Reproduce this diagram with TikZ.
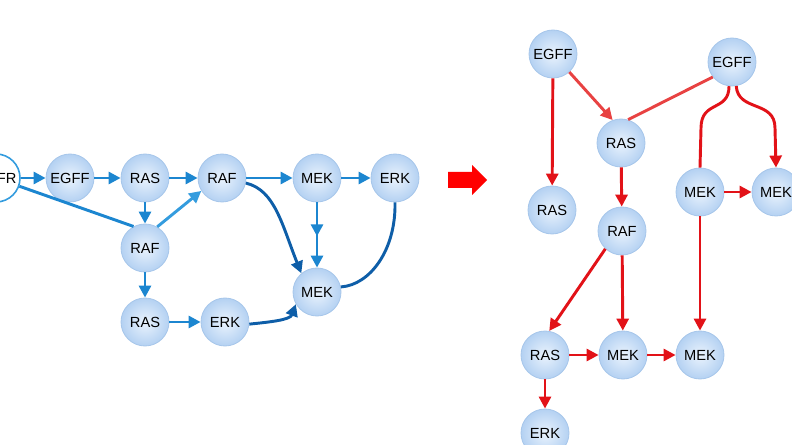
\documentclass[tikz,border=0pt]{standalone}
\usepackage{fontspec}
\setmainfont{Liberation Sans}
\usetikzlibrary{arrows.meta,decorations.markings}
\definecolor{bluA}{RGB}{28,134,208}
\definecolor{bluB}{RGB}{14,94,168}
\definecolor{bluC}{RGB}{52,156,222}
\definecolor{redA}{RGB}{226,18,24}
\definecolor{redB}{RGB}{232,66,66}
\definecolor{nodeEdge}{RGB}{166,198,234}
\definecolor{nodeIn}{RGB}{234,243,253}
\definecolor{nodeOut}{RGB}{180,209,242}
\tikzset{
  mol/.style={circle, minimum size=36pt, inner sep=0pt, draw=nodeEdge, line width=0.6pt,
    inner color=nodeIn, outer color=nodeOut, font=\fontsize{11pt}{13pt}\selectfont},
  startmol/.style={circle, minimum size=36pt, inner sep=0pt, draw=bluC, line width=1.2pt,
    fill=white, font=\fontsize{11pt}{13pt}\selectfont},
  tip/.style={-{Triangle[length=9pt,width=9pt]}},
  barrow/.style={draw=bluA, line width=2.2pt, tip},
  bline/.style={draw=bluA, line width=2.2pt},
  dbarrow/.style={draw=bluB, line width=2.2pt, tip},
  dbline/.style={draw=bluB, line width=2.2pt},
  rarrow/.style={draw=redA, line width=2.2pt, tip},
  rline/.style={draw=redA, line width=2.2pt},
  rlarrow/.style={draw=redB, line width=2.2pt, tip},
  rlline/.style={draw=redB, line width=2.2pt},
  midarrow/.style={postaction={decorate}, decoration={markings,
    mark=at position 0.52 with {\arrow[bluA]{Triangle[length=9pt,width=9pt]}}}}
}
\begin{document}
\begin{tikzpicture}[x=0.75pt,y=-0.75pt]
\useasboundingbox (0,0) rectangle (792,445);
\begin{scope}
\clip (0,0) rectangle (792,445);
% left graph nodes
\node[startmol] (egfr) at (-4,178) {EGFR};
\end{scope}
\node[mol] (egffL) at (70,178) {EGFF};
\node[mol] (rasL) at (145,178) {RAS};
\node[mol] (rafT) at (222,178) {RAF};
\node[mol] (mekT) at (317,178) {MEK};
\node[mol] (erkT) at (395,178) {ERK};
\node[mol] (rafM) at (145,248) {RAF};
\node[mol] (rasB) at (145,322) {RAS};
\node[mol] (erkB) at (225,322) {ERK};
\node[mol] (mekM) at (317,292) {MEK};
% left edges
\draw[barrow] (egfr) -- (egffL);
\draw[barrow] (egffL) -- (rasL);
\draw[barrow] (rasL) -- (rafT);
\draw[barrow] (rafT) -- (mekT);
\draw[barrow] (mekT) -- (erkT);
\draw[barrow] (rasL) -- (rafM);
\draw[barrow, draw=bluC] (rafM.60) -- (rafT.212);
\draw[bline] (egfr) -- (rafM.118);
\draw[barrow] (rafM) -- (rasB);
\draw[barrow] (rasB) -- (erkB);
\draw[barrow, midarrow] (mekT) -- (mekM);
\draw[dbarrow] (rafT.-12) .. controls (275,190) and (282,225) .. (mekM.130);
\draw[dbline] (erkT.south) .. controls (396,250) and (370,285) .. (mekM.12);
\draw[dbarrow] (erkB.-5) .. controls (270,322) and (290,320) .. (mekM.-150);
% big red arrow
\fill[red] (448,172) -- (472,172) -- (472,165) -- (487,180) -- (472,195) -- (472,188) -- (448,188) -- cycle;
% right graph nodes
\node[mol] (egff1) at (553,54) {EGFF};
\node[mol] (egff2) at (732,62) {EGFF};
\node[mol] (ras1) at (621,143) {RAS};
\node[mol] (ras2) at (552,210) {RAS};
\node[mol] (mek1) at (700,192) {MEK};
\node[mol] (mek2) at (776,192) {MEK};
\node[mol] (raf) at (622,231) {RAF};
\node[mol] (ras3) at (545,355) {RAS};
\node[mol] (mek3) at (623,355) {MEK};
\node[mol] (mek4) at (700,355) {MEK};
\node[mol] (erk) at (545,433) {ERK};
% right edges
\draw[rarrow] (egff1) -- (ras2);
\draw[rlarrow] (egff1) -- (ras1.110);
\draw[rlline] (egff2.218) -- (ras1.73);
\draw[rline] (egff2.-97) .. controls (729,112) and (701,100) .. (701,128) -- (mek1.north);
\draw[rarrow] (egff2.-80) .. controls (738,112) and (775,100) .. (775,128) -- (mek2.north);
\draw[rarrow] (ras1) -- (raf);
\draw[rarrow] (mek1) -- (mek2);
\draw[rarrow] (mek1) -- (mek4);
\draw[rarrow] (raf.-133) -- (ras3.80);
\draw[rarrow] (raf) -- (mek3);
\draw[rarrow] (ras3) -- (mek3);
\draw[rarrow] (mek3) -- (mek4);
\draw[rarrow] (ras3) -- (erk);
\end{tikzpicture}
\end{document}
